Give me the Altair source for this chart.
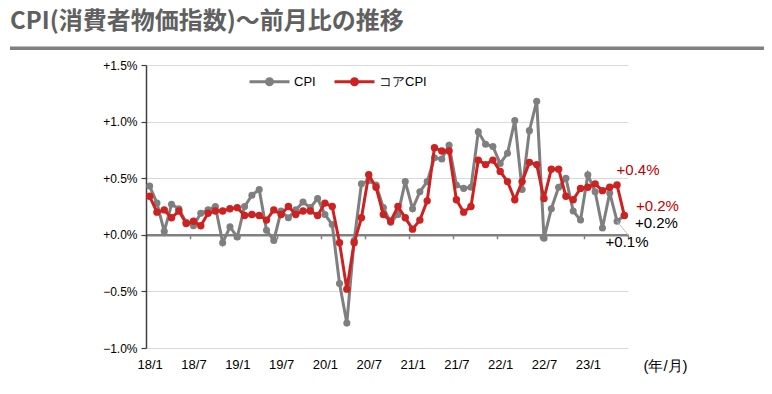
import altair as alt
import pandas as pd

# ---------------- data ----------------
months = [f"{y}/{m}" for y in range(18, 24) for m in range(1, 13)][:66]  # 18/1 .. 23/6

cpi = [0.43, 0.28, 0.03, 0.27, 0.23, 0.11, 0.08, 0.19, 0.22, 0.25,
       -0.07, 0.07, -0.02, 0.25, 0.35, 0.40, 0.04, -0.05, 0.21, 0.15,
       0.22, 0.29, 0.24, 0.32, 0.18, 0.09, -0.43, -0.78, -0.05, 0.45,
       0.48, 0.44, 0.24, 0.11, 0.18, 0.47, 0.23, 0.38, 0.47, 0.68,
       0.67, 0.79, 0.44, 0.41, 0.42, 0.91, 0.80, 0.78, 0.63, 0.72,
       1.01, 0.40, 0.92, 1.18, -0.03, 0.23, 0.42, 0.50, 0.21, 0.13,
       0.53, 0.38, 0.06, 0.37, 0.12, 0.17]

core = [0.34, 0.20, 0.22, 0.15, 0.21, 0.10, 0.12, 0.08, 0.19, 0.21,
        0.21, 0.23, 0.24, 0.17, 0.18, 0.17, 0.13, 0.22, 0.18, 0.25,
        0.18, 0.21, 0.21, 0.17, 0.28, 0.25, -0.07, -0.48, -0.07, 0.15,
        0.53, 0.42, 0.18, 0.12, 0.25, 0.15, 0.05, 0.13, 0.30, 0.77,
        0.74, 0.74, 0.31, 0.20, 0.25, 0.66, 0.62, 0.66, 0.56, 0.47,
        0.31, 0.47, 0.64, 0.62, 0.32, 0.58, 0.58, 0.34, 0.31, 0.41,
        0.42, 0.45, 0.39, 0.42, 0.44, 0.17]

x_tick_labels = ["18/1", "18/7", "19/1", "19/7", "20/1", "20/7",
                 "21/1", "21/7", "22/1", "22/7", "23/1"]
y_ticks = [-1.0, -0.5, 0.0, 0.5, 1.0, 1.5]
series_names = ["CPI", "コアCPI"]
series_colors = ["#7f7f7f", "#cc2222"]

title_text = "CPI(消費者物価指数)～前月比の推移"
x_unit = "(年/月)"
annot_texts = ["+0.4%", "+0.2%", "+0.2%", "+0.1%"]

# ---------------- tables ----------------
df_cpi = pd.DataFrame({"idx": range(len(cpi)), "month": months, "val": cpi, "series": series_names[0]})
df_core = pd.DataFrame({"idx": range(len(core)), "month": months, "val": core, "series": series_names[1]})

W, H = 482, 283
FONT = "Liberation Sans"

ymin, ymax = -1.0, 1.5
zero_offset = -H * (0 - ymin) / (ymax - ymin)

Y = alt.Y(
    "val:Q",
    scale=alt.Scale(domain=[ymin, ymax], nice=False, zero=False),
    axis=alt.Axis(
        values=y_ticks,
        labelExpr="(datum.value >= 0 ? '+' : '') + format(datum.value, '.1f') + '%'",
        title=None, grid=True, gridColor="#d9d9d9", gridWidth=1,
        domainColor="#404040", domainWidth=1.5,
        tickColor="#404040", tickSize=5, tickWidth=1.2,
        labelFont=FONT, labelFontSize=12, labelColor="#000000", labelPadding=4,
    ),
)

xscale = alt.Scale(domain=[-0.5, len(months) - 0.5], nice=False, zero=False)

label_js = "[" + ",".join(f"'{s}'" for s in x_tick_labels) + "]"
x_label_axis = alt.Axis(
    orient="bottom",
    values=list(range(0, 6 * len(x_tick_labels), 6)),
    labelExpr=label_js + "[round(datum.value / 6)]",
    domain=False, ticks=False, grid=False,
    labelFont=FONT, labelFontSize=13, labelColor="#000000", labelPadding=10,
    labelFlush=False,
    title=x_unit, titleX=519, titleY=22, titleAlign="center",
    titleBaseline="alphabetic", titleFont=FONT, titleFontSize=15,
    titleFontWeight="normal", titleColor="#000000",
)
x_tick_axis = alt.Axis(
    orient="bottom",
    values=[-0.5 + 6 * k for k in range(12)],
    labels=False, grid=False, title=None,
    domain=True, domainColor="#808080", domainWidth=2.5,
    ticks=True, tickColor="#808080", tickSize=4, tickWidth=1.5,
    offset=zero_offset,
)

color = alt.Color(
    "series:N",
    scale=alt.Scale(domain=series_names, range=series_colors),
    legend=alt.Legend(
        orient="none", legendX=102, legendY=-5, direction="horizontal",
        title=None,
        symbolType="M-1,0L1,0M-0.15,0A0.15,0.15,0,1,1,0.15,0A0.15,0.15,0,1,1,-0.15,0Z",
        symbolSize=1600, symbolStrokeWidth=3,
        labelFont=FONT, labelFontSize=13, labelColor="#000000",
        labelOffset=3, columnPadding=12, padding=0,
    ),
)

gray_line = alt.Chart(df_cpi).mark_line(strokeWidth=3).encode(
    x=alt.X("idx:Q", scale=xscale, axis=x_label_axis), y=Y, color=color)
gray_pts = alt.Chart(df_cpi).mark_circle(size=50, opacity=1).encode(
    x=alt.X("idx:Q", scale=xscale, axis=None), y=Y, color=color)
red_line = alt.Chart(df_core).mark_line(strokeWidth=3).encode(
    x=alt.X("idx:Q", scale=xscale, axis=x_tick_axis), y=Y, color=color)
red_pts = alt.Chart(df_core).mark_circle(size=55, opacity=1).encode(
    x=alt.X("idx:Q", scale=xscale, axis=None), y=Y, color=color)

last = len(months) - 1
lead_df = pd.DataFrame({"idx": [last - 1], "val": [cpi[last - 1]],
                        "idx2": [len(months) - 0.5], "val2": [0.0]})
leader = alt.Chart(lead_df).mark_rule(color="#bfbfbf", strokeWidth=1).encode(
    x=alt.X("idx:Q", scale=xscale, axis=None), x2="idx2:Q",
    y=Y, y2="val2:Q")


def annot(i, series, text, col, dx, dy):
    d = pd.DataFrame({"idx": [i], "val": [series[i]], "t": [text]})
    return alt.Chart(d).mark_text(font=FONT, fontSize=15, color=col, dx=dx, dy=dy,
                                  align="center", baseline="middle").encode(
        x=alt.X("idx:Q", scale=xscale, axis=None), y=Y, text="t:N")


a1 = annot(last - 1, core, annot_texts[0], "#c00000", 21, -15)
a2 = annot(last, core, annot_texts[1], "#c00000", 33, -10)
a3 = annot(last, cpi, annot_texts[2], "#000000", 32, 7)
a4 = annot(last - 1, cpi, annot_texts[3], "#000000", 10, 21)

title_df = pd.DataFrame({"t": [title_text]})
title = alt.Chart(title_df).mark_text(
    align="left", baseline="top", font="Noto Sans CJK JP",
    fontSize=24, fontWeight="bold", color="#606060").encode(
    x=alt.value(-136), y=alt.value(-55), text="t:N")
underline = alt.Chart(title_df).mark_rule(color="#808080", strokeWidth=3.5).encode(
    x=alt.value(-136), x2=alt.value(640), y=alt.value(-16.7))

chart = alt.layer(
    gray_line, gray_pts, red_line, red_pts, leader, a1, a2, a3, a4, title, underline
).resolve_axis(x="independent").properties(
    width=W, height=H,
    autosize=alt.AutoSizeParams(type="none"),
    padding={"left": 138, "top": 57, "right": 136, "bottom": 38},
    background="white",
).configure_view(stroke=None)

chart.save("out.html", embed_options={"renderer": "svg", "actions": False})
